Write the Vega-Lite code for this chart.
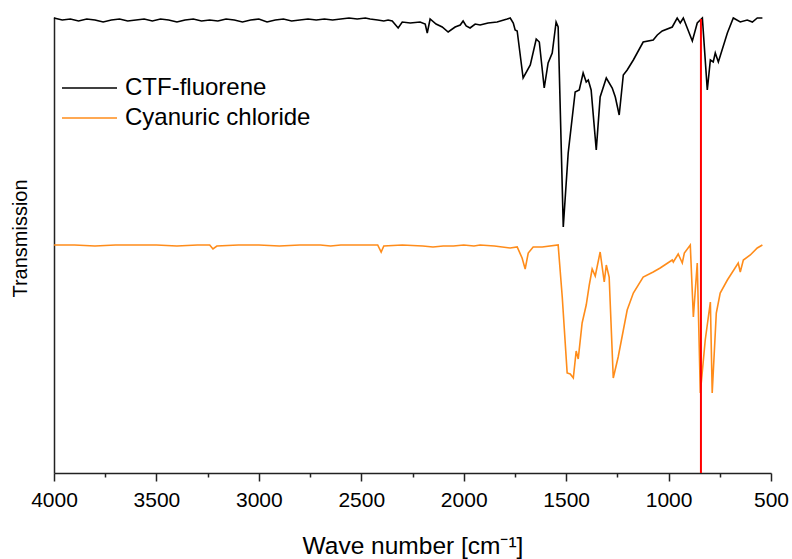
{
  "$schema": "https://vega.github.io/schema/vega-lite/v6.json",
  "autosize": "none",
  "width": 717,
  "height": 456,
  "padding": {"left": 54, "top": 17, "right": 21, "bottom": 86},
  "background": "white",
  "config": {
    "view": {"stroke": null},
    "font": "Liberation Sans"
  },
  "datasets": {
    "spectra": [
      {"wavenumber": 4000, "transmission": 455, "sample": "CTF-fluorene"},
      {"wavenumber": 3960, "transmission": 453, "sample": "CTF-fluorene"},
      {"wavenumber": 3920, "transmission": 454, "sample": "CTF-fluorene"},
      {"wavenumber": 3880, "transmission": 452, "sample": "CTF-fluorene"},
      {"wavenumber": 3840, "transmission": 454, "sample": "CTF-fluorene"},
      {"wavenumber": 3800, "transmission": 453, "sample": "CTF-fluorene"},
      {"wavenumber": 3760, "transmission": 451, "sample": "CTF-fluorene"},
      {"wavenumber": 3720, "transmission": 453, "sample": "CTF-fluorene"},
      {"wavenumber": 3680, "transmission": 454, "sample": "CTF-fluorene"},
      {"wavenumber": 3640, "transmission": 452, "sample": "CTF-fluorene"},
      {"wavenumber": 3600, "transmission": 453, "sample": "CTF-fluorene"},
      {"wavenumber": 3560, "transmission": 454, "sample": "CTF-fluorene"},
      {"wavenumber": 3520, "transmission": 452, "sample": "CTF-fluorene"},
      {"wavenumber": 3480, "transmission": 454, "sample": "CTF-fluorene"},
      {"wavenumber": 3440, "transmission": 453, "sample": "CTF-fluorene"},
      {"wavenumber": 3400, "transmission": 451, "sample": "CTF-fluorene"},
      {"wavenumber": 3360, "transmission": 453, "sample": "CTF-fluorene"},
      {"wavenumber": 3320, "transmission": 454, "sample": "CTF-fluorene"},
      {"wavenumber": 3280, "transmission": 452, "sample": "CTF-fluorene"},
      {"wavenumber": 3240, "transmission": 453, "sample": "CTF-fluorene"},
      {"wavenumber": 3200, "transmission": 452, "sample": "CTF-fluorene"},
      {"wavenumber": 3160, "transmission": 454, "sample": "CTF-fluorene"},
      {"wavenumber": 3120, "transmission": 453, "sample": "CTF-fluorene"},
      {"wavenumber": 3080, "transmission": 451, "sample": "CTF-fluorene"},
      {"wavenumber": 3040, "transmission": 453, "sample": "CTF-fluorene"},
      {"wavenumber": 3000, "transmission": 454, "sample": "CTF-fluorene"},
      {"wavenumber": 2960, "transmission": 451, "sample": "CTF-fluorene"},
      {"wavenumber": 2920, "transmission": 453, "sample": "CTF-fluorene"},
      {"wavenumber": 2880, "transmission": 454, "sample": "CTF-fluorene"},
      {"wavenumber": 2840, "transmission": 452, "sample": "CTF-fluorene"},
      {"wavenumber": 2800, "transmission": 453, "sample": "CTF-fluorene"},
      {"wavenumber": 2760, "transmission": 454, "sample": "CTF-fluorene"},
      {"wavenumber": 2720, "transmission": 453, "sample": "CTF-fluorene"},
      {"wavenumber": 2680, "transmission": 454, "sample": "CTF-fluorene"},
      {"wavenumber": 2640, "transmission": 453, "sample": "CTF-fluorene"},
      {"wavenumber": 2600, "transmission": 454, "sample": "CTF-fluorene"},
      {"wavenumber": 2560, "transmission": 455, "sample": "CTF-fluorene"},
      {"wavenumber": 2520, "transmission": 454, "sample": "CTF-fluorene"},
      {"wavenumber": 2480, "transmission": 455, "sample": "CTF-fluorene"},
      {"wavenumber": 2457, "transmission": 454, "sample": "CTF-fluorene"},
      {"wavenumber": 2420, "transmission": 453, "sample": "CTF-fluorene"},
      {"wavenumber": 2390, "transmission": 452, "sample": "CTF-fluorene"},
      {"wavenumber": 2369, "transmission": 453, "sample": "CTF-fluorene"},
      {"wavenumber": 2349, "transmission": 452, "sample": "CTF-fluorene"},
      {"wavenumber": 2320, "transmission": 445, "sample": "CTF-fluorene"},
      {"wavenumber": 2300, "transmission": 451, "sample": "CTF-fluorene"},
      {"wavenumber": 2261, "transmission": 450, "sample": "CTF-fluorene"},
      {"wavenumber": 2213, "transmission": 451, "sample": "CTF-fluorene"},
      {"wavenumber": 2188, "transmission": 449, "sample": "CTF-fluorene"},
      {"wavenumber": 2178, "transmission": 440, "sample": "CTF-fluorene"},
      {"wavenumber": 2164, "transmission": 454, "sample": "CTF-fluorene"},
      {"wavenumber": 2135, "transmission": 449, "sample": "CTF-fluorene"},
      {"wavenumber": 2105, "transmission": 446, "sample": "CTF-fluorene"},
      {"wavenumber": 2076, "transmission": 441, "sample": "CTF-fluorene"},
      {"wavenumber": 2042, "transmission": 446, "sample": "CTF-fluorene"},
      {"wavenumber": 2017, "transmission": 448, "sample": "CTF-fluorene"},
      {"wavenumber": 2003, "transmission": 452, "sample": "CTF-fluorene"},
      {"wavenumber": 1988, "transmission": 447, "sample": "CTF-fluorene"},
      {"wavenumber": 1969, "transmission": 445, "sample": "CTF-fluorene"},
      {"wavenumber": 1944, "transmission": 449, "sample": "CTF-fluorene"},
      {"wavenumber": 1920, "transmission": 448, "sample": "CTF-fluorene"},
      {"wavenumber": 1881, "transmission": 450, "sample": "CTF-fluorene"},
      {"wavenumber": 1837, "transmission": 451, "sample": "CTF-fluorene"},
      {"wavenumber": 1788, "transmission": 454, "sample": "CTF-fluorene"},
      {"wavenumber": 1773, "transmission": 455, "sample": "CTF-fluorene"},
      {"wavenumber": 1758, "transmission": 450, "sample": "CTF-fluorene"},
      {"wavenumber": 1749, "transmission": 443, "sample": "CTF-fluorene"},
      {"wavenumber": 1739, "transmission": 442, "sample": "CTF-fluorene"},
      {"wavenumber": 1710, "transmission": 395, "sample": "CTF-fluorene"},
      {"wavenumber": 1675, "transmission": 408, "sample": "CTF-fluorene"},
      {"wavenumber": 1646, "transmission": 434, "sample": "CTF-fluorene"},
      {"wavenumber": 1631, "transmission": 431, "sample": "CTF-fluorene"},
      {"wavenumber": 1607, "transmission": 385, "sample": "CTF-fluorene"},
      {"wavenumber": 1588, "transmission": 410, "sample": "CTF-fluorene"},
      {"wavenumber": 1568, "transmission": 420, "sample": "CTF-fluorene"},
      {"wavenumber": 1549, "transmission": 451, "sample": "CTF-fluorene"},
      {"wavenumber": 1539, "transmission": 446, "sample": "CTF-fluorene"},
      {"wavenumber": 1514, "transmission": 246, "sample": "CTF-fluorene"},
      {"wavenumber": 1490, "transmission": 320, "sample": "CTF-fluorene"},
      {"wavenumber": 1456, "transmission": 381, "sample": "CTF-fluorene"},
      {"wavenumber": 1436, "transmission": 383, "sample": "CTF-fluorene"},
      {"wavenumber": 1417, "transmission": 400, "sample": "CTF-fluorene"},
      {"wavenumber": 1402, "transmission": 391, "sample": "CTF-fluorene"},
      {"wavenumber": 1392, "transmission": 393, "sample": "CTF-fluorene"},
      {"wavenumber": 1378, "transmission": 383, "sample": "CTF-fluorene"},
      {"wavenumber": 1353, "transmission": 323, "sample": "CTF-fluorene"},
      {"wavenumber": 1334, "transmission": 376, "sample": "CTF-fluorene"},
      {"wavenumber": 1304, "transmission": 395, "sample": "CTF-fluorene"},
      {"wavenumber": 1275, "transmission": 385, "sample": "CTF-fluorene"},
      {"wavenumber": 1260, "transmission": 376, "sample": "CTF-fluorene"},
      {"wavenumber": 1241, "transmission": 358, "sample": "CTF-fluorene"},
      {"wavenumber": 1221, "transmission": 398, "sample": "CTF-fluorene"},
      {"wavenumber": 1202, "transmission": 403, "sample": "CTF-fluorene"},
      {"wavenumber": 1172, "transmission": 413, "sample": "CTF-fluorene"},
      {"wavenumber": 1124, "transmission": 431, "sample": "CTF-fluorene"},
      {"wavenumber": 1075, "transmission": 433, "sample": "CTF-fluorene"},
      {"wavenumber": 1055, "transmission": 438, "sample": "CTF-fluorene"},
      {"wavenumber": 1031, "transmission": 442, "sample": "CTF-fluorene"},
      {"wavenumber": 982, "transmission": 446, "sample": "CTF-fluorene"},
      {"wavenumber": 958, "transmission": 455, "sample": "CTF-fluorene"},
      {"wavenumber": 943, "transmission": 450, "sample": "CTF-fluorene"},
      {"wavenumber": 928, "transmission": 455, "sample": "CTF-fluorene"},
      {"wavenumber": 884, "transmission": 432, "sample": "CTF-fluorene"},
      {"wavenumber": 860, "transmission": 450, "sample": "CTF-fluorene"},
      {"wavenumber": 835, "transmission": 455, "sample": "CTF-fluorene"},
      {"wavenumber": 811, "transmission": 383, "sample": "CTF-fluorene"},
      {"wavenumber": 796, "transmission": 413, "sample": "CTF-fluorene"},
      {"wavenumber": 782, "transmission": 411, "sample": "CTF-fluorene"},
      {"wavenumber": 772, "transmission": 420, "sample": "CTF-fluorene"},
      {"wavenumber": 757, "transmission": 411, "sample": "CTF-fluorene"},
      {"wavenumber": 713, "transmission": 440, "sample": "CTF-fluorene"},
      {"wavenumber": 684, "transmission": 455, "sample": "CTF-fluorene"},
      {"wavenumber": 650, "transmission": 451, "sample": "CTF-fluorene"},
      {"wavenumber": 616, "transmission": 453, "sample": "CTF-fluorene"},
      {"wavenumber": 591, "transmission": 451, "sample": "CTF-fluorene"},
      {"wavenumber": 567, "transmission": 455, "sample": "CTF-fluorene"},
      {"wavenumber": 542, "transmission": 455, "sample": "CTF-fluorene"},
      {"wavenumber": 4000, "transmission": 228, "sample": "Cyanuric chloride"},
      {"wavenumber": 3900, "transmission": 228, "sample": "Cyanuric chloride"},
      {"wavenumber": 3800, "transmission": 227, "sample": "Cyanuric chloride"},
      {"wavenumber": 3700, "transmission": 228, "sample": "Cyanuric chloride"},
      {"wavenumber": 3600, "transmission": 228, "sample": "Cyanuric chloride"},
      {"wavenumber": 3500, "transmission": 228, "sample": "Cyanuric chloride"},
      {"wavenumber": 3400, "transmission": 227, "sample": "Cyanuric chloride"},
      {"wavenumber": 3300, "transmission": 228, "sample": "Cyanuric chloride"},
      {"wavenumber": 3240, "transmission": 228, "sample": "Cyanuric chloride"},
      {"wavenumber": 3224, "transmission": 224, "sample": "Cyanuric chloride"},
      {"wavenumber": 3205, "transmission": 227, "sample": "Cyanuric chloride"},
      {"wavenumber": 3100, "transmission": 228, "sample": "Cyanuric chloride"},
      {"wavenumber": 3000, "transmission": 228, "sample": "Cyanuric chloride"},
      {"wavenumber": 2900, "transmission": 227, "sample": "Cyanuric chloride"},
      {"wavenumber": 2800, "transmission": 228, "sample": "Cyanuric chloride"},
      {"wavenumber": 2700, "transmission": 228, "sample": "Cyanuric chloride"},
      {"wavenumber": 2650, "transmission": 227, "sample": "Cyanuric chloride"},
      {"wavenumber": 2600, "transmission": 228, "sample": "Cyanuric chloride"},
      {"wavenumber": 2500, "transmission": 228, "sample": "Cyanuric chloride"},
      {"wavenumber": 2420, "transmission": 228, "sample": "Cyanuric chloride"},
      {"wavenumber": 2403, "transmission": 221, "sample": "Cyanuric chloride"},
      {"wavenumber": 2390, "transmission": 227, "sample": "Cyanuric chloride"},
      {"wavenumber": 2300, "transmission": 228, "sample": "Cyanuric chloride"},
      {"wavenumber": 2200, "transmission": 227, "sample": "Cyanuric chloride"},
      {"wavenumber": 2150, "transmission": 226, "sample": "Cyanuric chloride"},
      {"wavenumber": 2100, "transmission": 227, "sample": "Cyanuric chloride"},
      {"wavenumber": 2050, "transmission": 227, "sample": "Cyanuric chloride"},
      {"wavenumber": 2000, "transmission": 228, "sample": "Cyanuric chloride"},
      {"wavenumber": 1950, "transmission": 227, "sample": "Cyanuric chloride"},
      {"wavenumber": 1920, "transmission": 228, "sample": "Cyanuric chloride"},
      {"wavenumber": 1850, "transmission": 227, "sample": "Cyanuric chloride"},
      {"wavenumber": 1773, "transmission": 225, "sample": "Cyanuric chloride"},
      {"wavenumber": 1739, "transmission": 226, "sample": "Cyanuric chloride"},
      {"wavenumber": 1715, "transmission": 215, "sample": "Cyanuric chloride"},
      {"wavenumber": 1700, "transmission": 204, "sample": "Cyanuric chloride"},
      {"wavenumber": 1685, "transmission": 220, "sample": "Cyanuric chloride"},
      {"wavenumber": 1661, "transmission": 226, "sample": "Cyanuric chloride"},
      {"wavenumber": 1617, "transmission": 226, "sample": "Cyanuric chloride"},
      {"wavenumber": 1539, "transmission": 228, "sample": "Cyanuric chloride"},
      {"wavenumber": 1519, "transmission": 176, "sample": "Cyanuric chloride"},
      {"wavenumber": 1495, "transmission": 100, "sample": "Cyanuric chloride"},
      {"wavenumber": 1480, "transmission": 99, "sample": "Cyanuric chloride"},
      {"wavenumber": 1465, "transmission": 95, "sample": "Cyanuric chloride"},
      {"wavenumber": 1451, "transmission": 122, "sample": "Cyanuric chloride"},
      {"wavenumber": 1441, "transmission": 114, "sample": "Cyanuric chloride"},
      {"wavenumber": 1422, "transmission": 150, "sample": "Cyanuric chloride"},
      {"wavenumber": 1402, "transmission": 168, "sample": "Cyanuric chloride"},
      {"wavenumber": 1387, "transmission": 188, "sample": "Cyanuric chloride"},
      {"wavenumber": 1373, "transmission": 204, "sample": "Cyanuric chloride"},
      {"wavenumber": 1358, "transmission": 197, "sample": "Cyanuric chloride"},
      {"wavenumber": 1334, "transmission": 221, "sample": "Cyanuric chloride"},
      {"wavenumber": 1314, "transmission": 191, "sample": "Cyanuric chloride"},
      {"wavenumber": 1304, "transmission": 208, "sample": "Cyanuric chloride"},
      {"wavenumber": 1290, "transmission": 196, "sample": "Cyanuric chloride"},
      {"wavenumber": 1270, "transmission": 95, "sample": "Cyanuric chloride"},
      {"wavenumber": 1246, "transmission": 116, "sample": "Cyanuric chloride"},
      {"wavenumber": 1202, "transmission": 163, "sample": "Cyanuric chloride"},
      {"wavenumber": 1172, "transmission": 180, "sample": "Cyanuric chloride"},
      {"wavenumber": 1124, "transmission": 196, "sample": "Cyanuric chloride"},
      {"wavenumber": 1075, "transmission": 201, "sample": "Cyanuric chloride"},
      {"wavenumber": 1041, "transmission": 205, "sample": "Cyanuric chloride"},
      {"wavenumber": 982, "transmission": 213, "sample": "Cyanuric chloride"},
      {"wavenumber": 977, "transmission": 211, "sample": "Cyanuric chloride"},
      {"wavenumber": 953, "transmission": 219, "sample": "Cyanuric chloride"},
      {"wavenumber": 933, "transmission": 210, "sample": "Cyanuric chloride"},
      {"wavenumber": 923, "transmission": 220, "sample": "Cyanuric chloride"},
      {"wavenumber": 894, "transmission": 228, "sample": "Cyanuric chloride"},
      {"wavenumber": 879, "transmission": 156, "sample": "Cyanuric chloride"},
      {"wavenumber": 860, "transmission": 210, "sample": "Cyanuric chloride"},
      {"wavenumber": 845, "transmission": 80, "sample": "Cyanuric chloride"},
      {"wavenumber": 821, "transmission": 133, "sample": "Cyanuric chloride"},
      {"wavenumber": 796, "transmission": 171, "sample": "Cyanuric chloride"},
      {"wavenumber": 787, "transmission": 80, "sample": "Cyanuric chloride"},
      {"wavenumber": 767, "transmission": 160, "sample": "Cyanuric chloride"},
      {"wavenumber": 748, "transmission": 180, "sample": "Cyanuric chloride"},
      {"wavenumber": 713, "transmission": 193, "sample": "Cyanuric chloride"},
      {"wavenumber": 660, "transmission": 210, "sample": "Cyanuric chloride"},
      {"wavenumber": 650, "transmission": 201, "sample": "Cyanuric chloride"},
      {"wavenumber": 635, "transmission": 213, "sample": "Cyanuric chloride"},
      {"wavenumber": 601, "transmission": 218, "sample": "Cyanuric chloride"},
      {"wavenumber": 567, "transmission": 225, "sample": "Cyanuric chloride"},
      {"wavenumber": 542, "transmission": 228, "sample": "Cyanuric chloride"}
    ],
    "marker": [
      {"wavenumber": 842, "bottom": 0, "top": 454}
    ]
  },
  "layer": [
    {
      "data": {"name": "spectra"},
      "mark": {"type": "line", "strokeWidth": 1.6, "interpolate": "linear"},
      "encoding": {
        "x": {
          "field": "wavenumber",
          "type": "quantitative",
          "scale": {"domain": [500, 4000], "reverse": true, "nice": false, "zero": false},
          "axis": {
            "title": "Wave number [cm⁻¹]",
            "titleFont": "Liberation Sans",
            "titleFontSize": 24.5,
            "titleFontWeight": "normal",
            "titleColor": "#000000",
            "titleBaseline": "alphabetic",
            "titleY": 80,
            "values": [500, 625, 750, 875, 1000, 1125, 1250, 1375, 1500, 1625, 1750, 1875, 2000, 2125, 2250, 2375, 2500, 2625, 2750, 2875, 3000, 3125, 3250, 3375, 3500, 3625, 3750, 3875, 4000],
            "format": "d",
            "labelExpr": "datum.value % 500 === 0 ? datum.label : ''",
            "labelFont": "Liberation Sans",
            "labelFontSize": 21,
            "labelColor": "#000000",
            "labelPadding": 8,
            "labelFlush": false,
            "labelOverlap": false,
            "tickSize": {"condition": {"test": "datum.value % 500 === 0", "value": 8}, "value": 4},
            "tickColor": "#222222",
            "tickWidth": 1.5,
            "domainColor": "#222222",
            "domainWidth": 1.5,
            "grid": false
          }
        },
        "y": {
          "field": "transmission",
          "type": "quantitative",
          "scale": {"domain": [0, 456], "nice": false, "zero": false},
          "axis": {
            "title": "Transmission",
            "titleFont": "Liberation Sans",
            "titleFontSize": 20,
            "titleFontWeight": "normal",
            "titleColor": "#000000",
            "titlePadding": 24,
            "titleY": 221,
            "ticks": false,
            "labels": false,
            "grid": false,
            "domainColor": "#222222",
            "domainWidth": 1.5
          }
        },
        "color": {
          "field": "sample",
          "type": "nominal",
          "scale": {"domain": ["CTF-fluorene", "Cyanuric chloride"], "range": ["#000000", "#FF8C1A"]},
          "legend": {
            "title": null,
            "orient": "none",
            "legendX": 7,
            "legendY": 56,
            "padding": 0,
            "symbolType": "stroke",
            "symbolSize": 3025,
            "symbolStrokeWidth": 1.5,
            "clipHeight": 30,
            "rowPadding": 0,
            "labelOffset": 7,
            "labelFont": "Liberation Sans",
            "labelFontSize": 24,
            "labelColor": "#000000",
            "labelLimit": 400
          }
        }
      }
    },
    {
      "data": {"name": "marker"},
      "mark": {"type": "rule", "color": "#FF0000", "strokeWidth": 2},
      "encoding": {
        "x": {"field": "wavenumber", "type": "quantitative"},
        "y": {"field": "bottom", "type": "quantitative"},
        "y2": {"field": "top"}
      }
    }
  ]
}
